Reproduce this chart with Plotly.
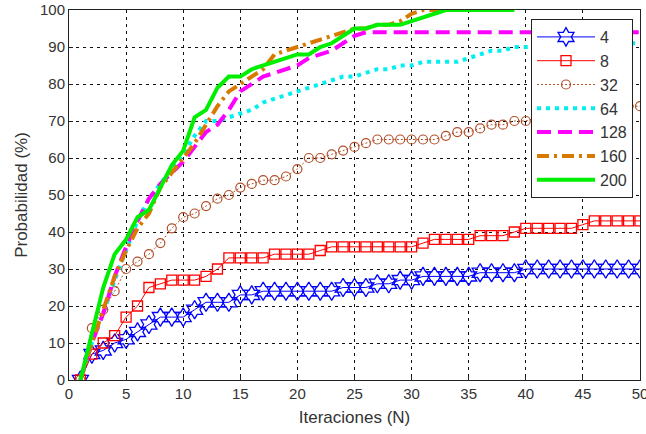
import plotly.graph_objects as go

iters = list(range(1, 51))

p4 = [0, 7, 8, 10, 11, 13, 15, 17, 17, 17, 19, 21, 21, 21, 23, 23, 24, 24, 24, 24,
      24, 24, 24, 25, 25, 25, 26, 26, 27, 27, 28, 28, 28, 28, 28, 29, 29, 29, 29, 30,
      30, 30, 30, 30, 30, 30, 30, 30, 30, 30]
p8 = [0, 7, 10, 12, 17, 20, 25, 26, 27, 27, 27, 28, 30, 33, 33, 33, 33, 34, 34, 34,
      34, 35, 36, 36, 36, 36, 36, 36, 36, 36, 37, 38, 38, 38, 38, 39, 39, 39, 40, 41,
      41, 41, 41, 41, 42, 43, 43, 43, 43, 43]
p32 = [0, 14, 19, 24, 30, 32, 34, 37, 41, 44, 45, 47, 49, 50, 52, 53, 54, 54, 55, 57,
       60, 60, 61, 62, 63, 64, 65, 65, 65, 65, 65, 65, 66, 67, 67, 68, 69, 69, 70, 70,
       71, 71, 72, 72, 72, 73, 73, 73, 74, 74]
p64 = [0, 10, 18, 27, 35, 43, 49, 53, 57, 61, 66, 70, 70, 71, 72, 73, 75, 76, 77, 78,
       79, 80, 81, 82, 82, 83, 84, 84, 85, 85, 86, 86, 86, 86, 87, 88, 89, 89, 90, 90,
       90, 90, 90, 90, 91, 91, 91, 91, 91, 91]
p128 = [0, 10, 18, 28, 36, 43, 49, 53, 56, 59, 63, 67, 69, 73, 78, 80, 82, 83, 84, 85,
        87, 88, 89, 91, 93, 94, 94, 94, 94, 94, 94, 94, 94, 94, 94, 94, 94, 94, 94, 94,
        94, 94, 94, 94, 94, 94, 94, 94, 94, 94]
p160 = [0, 10, 19, 28, 35, 41, 45, 52, 56, 60, 64, 69, 74, 78, 80, 82, 84, 88, 89, 90,
        91, 92, 93, 94, 95, 95, 96, 96, 97, 99, 100, 100, 100]
p200 = [0, 12, 25, 34, 38, 44, 46, 52, 58, 62, 71, 73, 79, 82, 82, 84, 85, 86, 87, 88,
        88, 90, 91, 93, 95, 95, 96, 96, 96, 97, 98, 99, 100, 100, 100, 100, 100, 100, 100]

names = ["4", "8", "32", "64", "128", "160", "200"]

FONT = "Liberation Sans, Arial, sans-serif"

fig = go.Figure()
fig.add_trace(go.Scatter(x=iters, y=p4, name=names[0], mode="lines+markers",
                         line=dict(color="#0000FF", width=1),
                         marker=dict(symbol="hexagram-open", size=14, color="#0000FF",
                                     line=dict(width=1.3, color="#0000FF"))))
fig.add_trace(go.Scatter(x=iters, y=p8, name=names[1], mode="lines+markers",
                         line=dict(color="#FF0000", width=1),
                         marker=dict(symbol="square-open", size=10, color="#FF0000",
                                     line=dict(width=1.3, color="#FF0000"))))
fig.add_trace(go.Scatter(x=iters, y=p32, name=names[2], mode="lines+markers",
                         line=dict(color="#B0502A", width=1, dash="2px,2px"),
                         marker=dict(symbol="circle-open", size=9, color="#B0502A",
                                     line=dict(width=1.2, color="#B0502A"))))
fig.add_trace(go.Scatter(x=iters, y=p64, name=names[3], mode="lines",
                         line=dict(color="#00F0F0", width=4, dash="4px,5px")))
fig.add_trace(go.Scatter(x=iters, y=p128, name=names[4], mode="lines",
                         line=dict(color="#FF00FF", width=4, dash="14px,7px")))
fig.add_trace(go.Scatter(x=iters[:len(p160)], y=p160, name=names[5], mode="lines",
                         line=dict(color="#D97A00", width=4, dash="12px,5px,3px,5px")))
fig.add_trace(go.Scatter(x=iters[:len(p200)], y=p200, name=names[6], mode="lines",
                         line=dict(color="#00EE00", width=4)))

axis_common = dict(showline=True, linecolor="#222", linewidth=1, mirror=True,
                   showgrid=True, gridcolor="#111", gridwidth=1, griddash="3px,4px",
                   zeroline=False, ticks="inside", ticklen=4, tickcolor="#222",
                   automargin=False, ticklabeloverflow="allow",
                   tickfont=dict(family=FONT, size=15, color="#333"))

fig.update_xaxes(range=[0, 50], dtick=5, tick0=0,
                 title=dict(text="Iteraciones (N)", standoff=10,
                            font=dict(family=FONT, size=17, color="#333")),
                 **axis_common)
fig.update_yaxes(range=[0, 100], dtick=10, tick0=0,
                 title=dict(text="Probabilidad (%)", standoff=8,
                            font=dict(family=FONT, size=17, color="#333")),
                 **axis_common)

fig.update_layout(
    width=646, height=434, autosize=False,
    margin=dict(l=69, r=6, t=10, b=54),
    paper_bgcolor="white", plot_bgcolor="white",
    showlegend=True,
    legend=dict(x=(633 - 69) / 571, y=(380 - 19) / 370, xanchor="right", yanchor="top",
                bgcolor="white", bordercolor="#222", borderwidth=1,
                font=dict(family=FONT, size=16, color="#333"),
                itemwidth=58, tracegroupgap=0),
)

fig.write_html("out.html", config={"responsive": False, "displayModeBar": False},
               post_script="document.body.style.margin='0px';document.body.style.overflow='hidden';")
